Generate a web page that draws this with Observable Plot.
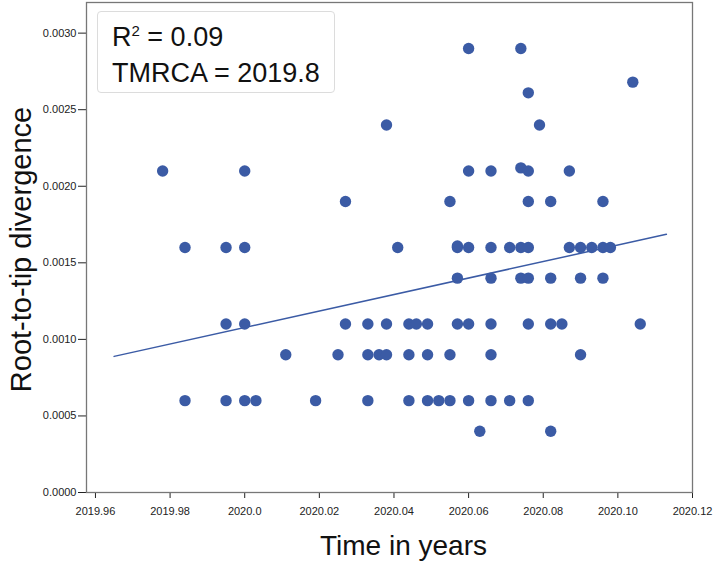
<!DOCTYPE html>
<html>
<head>
<meta charset="utf-8">
<script src="https://cdn.jsdelivr.net/npm/d3@7"></script>
<script src="https://cdn.jsdelivr.net/npm/@observablehq/plot@0.6"></script>
<style>
  html, body { margin: 0; padding: 0; background: white; }
  #wrap { position: relative; width: 714px; height: 562px; font-family: "Liberation Sans", Arial, Helvetica, sans-serif; }
  #legend { position: absolute; left: 97px; top: 11px; width: 236px; height: 80px; border: 1px solid #dcdcdc; border-radius: 4px; background: white; }
  .ln { position: absolute; left: 14px; font-size: 27px; line-height: 27px; color: #111; white-space: nowrap; }
  .sup { font-size: 15px; position: relative; top: -10px; }
</style>
</head>
<body>
<div id="wrap"></div>
<script>
// Sampling dates (decimal years) and root-to-tip divergence
const years = [
  2020.038, 2019.978, 2020.000, 2020.027, 2019.984, 2019.995, 2020.000, 2020.041,
  2019.995, 2020.000, 2020.027, 2020.033, 2020.038,
  2020.011, 2020.025, 2020.033, 2020.036, 2020.038,
  2019.984, 2019.995, 2020.000, 2020.003, 2020.019, 2020.033,
  2020.060, 2020.074, 2020.104, 2020.076, 2020.079,
  2020.060, 2020.066, 2020.074, 2020.076, 2020.087,
  2020.055, 2020.076, 2020.082, 2020.096,
  2020.057, 2020.057, 2020.060, 2020.066, 2020.071, 2020.074, 2020.076, 2020.087, 2020.090, 2020.093, 2020.096, 2020.098,
  2020.057, 2020.066, 2020.074, 2020.076, 2020.082, 2020.090, 2020.096,
  2020.044, 2020.046, 2020.049, 2020.057, 2020.060, 2020.066, 2020.076, 2020.082, 2020.085, 2020.106,
  2020.044, 2020.049, 2020.055, 2020.066, 2020.090,
  2020.044, 2020.049, 2020.052, 2020.055, 2020.060, 2020.066, 2020.071, 2020.076,
  2020.063, 2020.082
];
const divergence = [
  0.0024, 0.0021, 0.0021, 0.0019, 0.0016, 0.0016, 0.0016, 0.0016,
  0.0011, 0.0011, 0.0011, 0.0011, 0.0011,
  0.0009, 0.0009, 0.0009, 0.0009, 0.0009,
  0.0006, 0.0006, 0.0006, 0.0006, 0.0006, 0.0006,
  0.0029, 0.0029, 0.00268, 0.00261, 0.0024,
  0.0021, 0.0021, 0.00212, 0.0021, 0.0021,
  0.0019, 0.0019, 0.0019, 0.0019,
  0.0016, 0.00161, 0.0016, 0.0016, 0.0016, 0.0016, 0.0016, 0.0016, 0.0016, 0.0016, 0.0016, 0.0016,
  0.0014, 0.0014, 0.0014, 0.0014, 0.0014, 0.0014, 0.0014,
  0.0011, 0.0011, 0.0011, 0.0011, 0.0011, 0.0011, 0.0011, 0.0011, 0.0011, 0.0011,
  0.0009, 0.0009, 0.0009, 0.0009, 0.0009,
  0.0006, 0.0006, 0.0006, 0.0006, 0.0006, 0.0006, 0.0006, 0.0006,
  0.0004, 0.0004
];
// Regression line end points
const fitYears = [2019.965, 2020.113];
const fitDivergence = [0.000889, 0.001686];

const xTicks = [2019.96, 2019.98, 2020.0, 2020.02, 2020.04, 2020.06, 2020.08, 2020.10, 2020.12];
const xTickLabels = ["2019.96", "2019.98", "2020.0", "2020.02", "2020.04", "2020.06", "2020.08", "2020.10", "2020.12"];
const yTicks = [0, 0.0005, 0.001, 0.0015, 0.002, 0.0025, 0.003];
const yTickLabels = ["0.0000", "0.0005", "0.0010", "0.0015", "0.0020", "0.0025", "0.0030"];

const xTitle = "Time in years";
const yTitle = "Root-to-tip divergence";
const r2Text = "0.09";
const tmrcaText = "2019.8";

const blue = "#3b5ba5";
const points = years.map((x, i) => ({x, y: divergence[i]}));
const fit = fitYears.map((x, i) => ({x, y: fitDivergence[i]}));

const chart = Plot.plot({
  width: 714,
  height: 562,
  marginLeft: 86,
  marginRight: 22,
  marginTop: 2,
  marginBottom: 70,
  style: { fontFamily: "'Liberation Sans', Arial, Helvetica, sans-serif", fontSize: "11px", color: "#222", background: "white" },
  x: {
    domain: [2019.9576, 2020.12],
    ticks: xTicks,
    tickFormat: d => xTickLabels[xTicks.findIndex(t => Math.abs(t - d) < 1e-9)],
    tickSize: 6,
    tickPadding: 9,
    label: null
  },
  y: {
    domain: [0, 0.0032],
    ticks: yTicks,
    tickFormat: d => yTickLabels[yTicks.findIndex(t => Math.abs(t - d) < 1e-12)],
    tickSize: 8,
    tickPadding: 2,
    label: null
  },
  marks: [
    Plot.frame({ stroke: "#777", strokeWidth: 1.3 }),
    Plot.line(fit, { x: "x", y: "y", stroke: blue, strokeWidth: 1.5 }),
    Plot.dot(points, { x: "x", y: "y", r: 5.7, fill: blue, stroke: null }),
    Plot.text([xTitle], { text: d => d, frameAnchor: "bottom", dx: 14, dy: 54, fontSize: 28, textAnchor: "middle", lineAnchor: "middle", fill: "#111" }),
    Plot.text([yTitle], { text: d => d, frameAnchor: "left", dx: -65, dy: 2, rotate: -90, fontSize: 29, textAnchor: "middle", lineAnchor: "middle", fill: "#111" })
  ]
});

const wrap = document.getElementById("wrap");
wrap.appendChild(chart);
const legend = document.createElement("div");
legend.id = "legend";
legend.innerHTML =
  `<div class="ln" style="top:12px">R<span class="sup">2</span> = ${r2Text}</div>` +
  `<div class="ln" style="top:48px">TMRCA = ${tmrcaText}</div>`;
wrap.appendChild(legend);
</script>
</body>
</html>
